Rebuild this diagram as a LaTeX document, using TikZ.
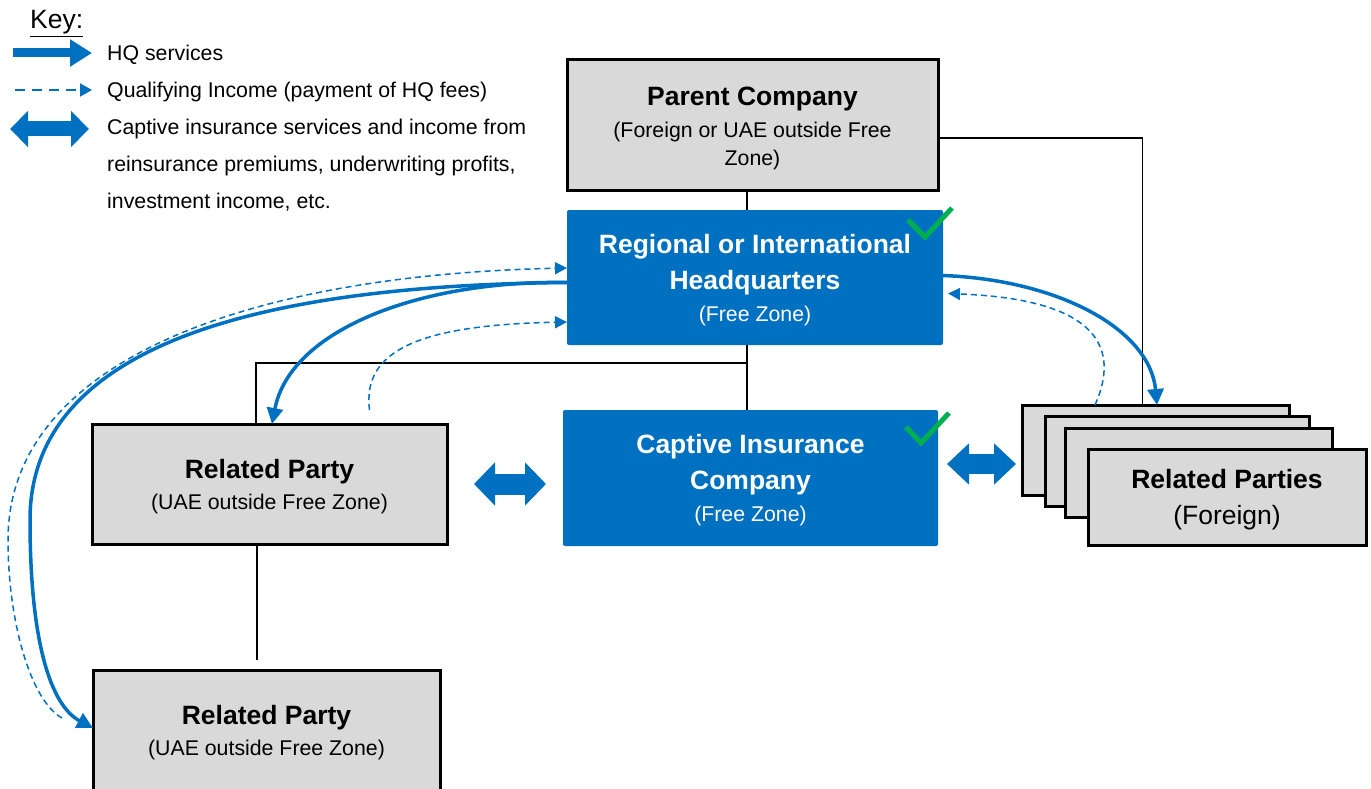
\documentclass[tikz,border=0pt]{standalone}
\usepackage{fontspec}
\setmainfont{Liberation Sans}
\usetikzlibrary{arrows.meta,calc}
\definecolor{qblue}{HTML}{0070C0}
\definecolor{qgray}{HTML}{D9D9D9}
\definecolor{qgreen}{HTML}{00B050}
\newcommand\ttl{\fontsize{26.5}{32}\selectfont\bfseries}
\newcommand\bigsub{\fontsize{26.5}{32}\selectfont}
\newcommand\tstrut[1]{\rule{0pt}{#1}}
\begin{document}
\begin{tikzpicture}[x=1pt,y=-1pt,
  graybox/.style={draw=black, line width=3pt, fill=qgray, rectangle, anchor=north west,
    inner sep=0pt, outer sep=0pt, align=center, font=\fontsize{21.3}{28}\selectfont},
  bluebox/.style={fill=qblue, rectangle, rounded corners=2pt, anchor=north west,
    inner sep=0pt, outer sep=0pt, align=center, text=white, font=\fontsize{21.3}{28}\selectfont},
  conn/.style={draw=black, line width=1.3pt},
  hqsolid/.style={draw=qblue, line width=3.5pt, -{Triangle[length=16pt,width=16pt]}},
  hqdash/.style={draw=qblue, line width=1.5pt, dash pattern=on 6pt off 4pt, -{Triangle[length=12pt,width=12pt]}},
  fatdbl/.style={draw=qblue, line width=21pt, {Triangle[length=21pt,width=42pt]}-{Triangle[length=21pt,width=42pt]}},
  check/.style={draw=qgreen, line width=5pt},
  keytext/.style={anchor=north west, inner sep=0pt, align=left, font=\fontsize{21.3}{36.7}\selectfont}
]
\useasboundingbox (0,0) rectangle (1371,789);

% key
\node[anchor=base west, inner sep=0pt, font=\fontsize{26.5}{32}\selectfont] (key) at (30,29) {\underline{Key:}};
\node[keytext] (k1) at (107,45) {HQ services};
\node[keytext] (k2) at (107,82) {Qualifying Income (payment of HQ fees)};
\node[keytext] (k3) at (107,119) {Captive insurance services and income from\\reinsurance premiums, underwriting profits,\\investment income, etc.};
\coordinate (ka1) at (13,53); \coordinate (kb1) at (92,53);
\coordinate (ka2) at (15,90); \coordinate (kb2) at (92,90);
\coordinate (ka3) at (10,129); \coordinate (kb3) at (89,129);
\draw[draw=qblue, line width=9pt, -{Triangle[length=22pt,width=26pt]}] (ka1) -- (kb1);
\draw[draw=qblue, line width=2pt, dash pattern=on 10pt off 7pt, -{Triangle[length=12pt,width=13pt]}] (ka2) -- (kb2);
\draw[draw=qblue, line width=15pt, {Triangle[length=18pt,width=35pt]}-{Triangle[length=18pt,width=35pt]}] (ka3) -- (kb3);

% boxes
\node[graybox, minimum width=371pt, minimum height=130pt] (pc) at (567,60)
  {{\ttl\tstrut{26pt}Parent Company}\\[4pt](Foreign or UAE outside Free\\Zone)};
\node[bluebox, minimum width=376pt, minimum height=135pt] (hq) at (567,210)
  {{\ttl\tstrut{25pt}Regional or International}\\[8pt]{\ttl Headquarters}\\[4pt](Free Zone)};
\node[bluebox, minimum width=375pt, minimum height=136pt] (cap) at (563,410)
  {{\ttl\tstrut{24pt}Captive Insurance}\\[8pt]{\ttl Company}\\[4pt](Free Zone)};
\node[graybox, minimum width=355pt, minimum height=120pt] (rp1) at (92,424)
  {{\ttl\tstrut{25pt}Related Party}\\[3pt](UAE outside Free Zone)};
\node[graybox, minimum width=347pt, minimum height=120pt] (rp2) at (93,670)
  {{\ttl\tstrut{25pt}Related Party}\\[3pt](UAE outside Free Zone)};
\node[graybox, minimum width=267pt, minimum height=90pt] (rps1) at (1022,405) {};
\node[graybox, minimum width=264pt, minimum height=90pt] (rps2) at (1045,416) {};
\node[graybox, minimum width=267pt, minimum height=89pt] (rps3) at (1065,428) {};
\node[graybox, minimum width=278pt, minimum height=96pt] (rps4) at (1088,449)
  {{\ttl\tstrut{24pt}Related Parties}\\[8pt]{\bigsub (Foreign)}};

% connectors
\draw[conn] (747,0 |- pc.south) -- (747,0 |- hq.north);
\draw[conn] ($(pc.east)+(0,13)$) -| ($(rps1.north west)!0.45!(rps1.north east)$);
\draw[conn] (747,0 |- hq.south) -- (747,0 |- cap.north);
\coordinate (j) at (747,363);
\draw[conn] (j) -| (256,0 |- rp1.north);
\draw[conn] (257,0 |- rp1.south) -- ($(257,0 |- rp2.north)+(0,-10)$);

% HQ services and qualifying income
\draw[hqsolid] ($(hq.west)+(0,5)$) .. controls (420,280) and (290,330) .. (272,0 |- rp1.north);
\draw[hqsolid] ($(hq.west)+(0,5)$) .. controls (300,285) and (30,330) .. (30,520)
  .. controls (30,640) and (50,705) .. (rp2.west |- 0,728);
\draw[hqdash] ($(rp2.west)+(-31,-12)$) .. controls (30,700) and (8,620) .. (8,540)
  .. controls (8,360) and (250,275) .. (hq.west |- 0,268);
\draw[hqdash] ($(rp1.north)+(100,-14)$) .. controls (362,350) and (420,325) .. (hq.west |- 0,322);
\draw[hqsolid] ($(hq.east)+(0,-2)$) .. controls (1060,280) and (1150,330) .. (1157,0 |- rps1.north);
\draw[hqdash] (1095,0 |- rps1.north) .. controls (1115,360) and (1115,300) .. ($(hq.east)+(5,16)$);

% captive insurance flows
\draw[fatdbl, shorten <=27pt, shorten >=17pt] (rp1.east) -- (rp1.east -| cap.west);
\draw[fatdbl, line width=20pt, {Triangle[length=22pt,width=40pt]}-{Triangle[length=22pt,width=40pt]}, shorten <=9pt, shorten >=6pt]
  ($(cap.east)+(0,-14)$) -- ($(rps1.west |- cap.east)+(0,-14)$);

% checks
\draw[check] (908,220) -- (925,237) -- (952,208);
\draw[check] (906,427) -- (921,443) -- (949,413);
\end{tikzpicture}
\end{document}
